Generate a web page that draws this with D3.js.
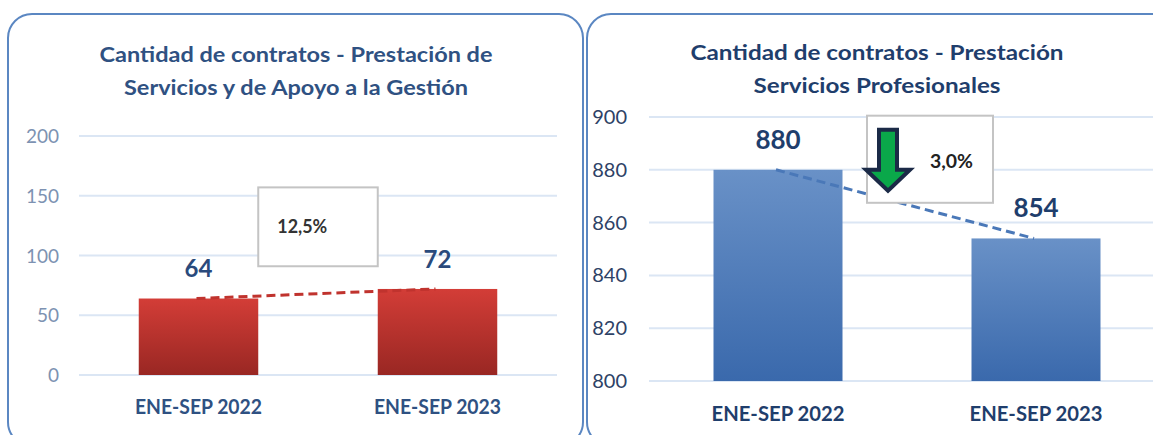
<!DOCTYPE html>
<html>
<head>
<meta charset="utf-8">
<script src="https://cdn.jsdelivr.net/npm/d3@7"></script>
<style>
	body { margin: 0; background: #fff; }
	svg { display: block; font-family: Lato, "Open Sans", sans-serif; }
	.grid line { stroke: #dbe6f4; stroke-width: 2; }
	.panel { fill: none; stroke: #5b87c2; stroke-width: 2; }
	.title { font-weight: bold; text-anchor: middle; }
	.cat { font-weight: bold; text-anchor: middle; }
	.val { font-weight: bold; text-anchor: middle; }
</style>
</head>
<body>
<svg width="1153" height="435"></svg>
<script>
const categories = ["ENE-SEP 2022", "ENE-SEP 2023"]

const apoyoValues = [64, 72]
const apoyoTicks = [0, 50, 100, 150, 200]
const apoyoTitle = ["Cantidad de contratos - Prestación de", "Servicios y de Apoyo a la Gestión"]
const apoyoChange = "12,5%"

const profValues = [880, 854]
const profTicks = [800, 820, 840, 860, 880, 900]
const profTitle = ["Cantidad de contratos - Prestación", "Servicios Profesionales"]
const profChange = "3,0%"

const svg = d3.select("svg")
const defs = svg.append("defs")

function gradient(id, top, bottom) {
	const g = defs.append("linearGradient")
		.attr("id", id)
		.attr("x1", 0).attr("y1", 0)
		.attr("x2", 0).attr("y2", 1)
	g.append("stop").attr("offset", "0%").attr("stop-color", top)
	g.append("stop").attr("offset", "100%").attr("stop-color", bottom)
}
gradient("red", "#d33d37", "#992723")
gradient("blue", "#6991c7", "#3a69ac")

// panel frames
svg.append("rect").attr("class", "panel")
	.attr("x", 8).attr("y", 14).attr("width", 575).attr("height", 432).attr("rx", 24)
svg.append("rect").attr("class", "panel")
	.attr("x", 587).attr("y", 14).attr("width", 590).attr("height", 432).attr("rx", 24)

function drawChart(opt) {
	const g = svg.append("g")

	const x = d3.scaleBand()
		.domain(categories)
		.range(opt.xRange)
		.paddingInner(0.5)
		.paddingOuter(0.25)

	const y = d3.scaleLinear()
		.domain(d3.extent(opt.ticks))
		.range(opt.yRange)

	// title
	g.selectAll(".title")
		.data(opt.title)
		.enter()
		.append("text")
		.attr("class", "title")
		.attr("x", opt.titleX)
		.attr("y", (d, i) => opt.titleY + i * 33)
		.attr("fill", opt.titleColor)
		.style("font-size", opt.titleSize + "px")
		.attr("textLength", (d, i) => opt.titleWidths[i])
		.attr("lengthAdjust", "spacingAndGlyphs")
		.text(d => d)

	// grid + y labels
	const grid = g.append("g").attr("class", "grid")
	grid.selectAll("line")
		.data(opt.ticks)
		.enter()
		.append("line")
		.attr("x1", opt.gridX[0])
		.attr("x2", opt.gridX[1])
		.attr("y1", d => y(d))
		.attr("y2", d => y(d))

	g.selectAll(".tick")
		.data(opt.ticks)
		.enter()
		.append("text")
		.attr("class", "tick")
		.attr("x", opt.tickX)
		.attr("y", d => y(d) + 7)
		.attr("text-anchor", "end")
		.attr("fill", opt.tickColor)
		.style("font-size", opt.tickSize + "px")
		.text(d => d)

	// bars
	g.selectAll(".bar")
		.data(opt.values)
		.enter()
		.append("rect")
		.attr("class", "bar")
		.attr("x", (d, i) => x(categories[i]))
		.attr("width", x.bandwidth())
		.attr("y", d => y(d))
		.attr("height", d => opt.yRange[0] - y(d))
		.attr("fill", "url(#" + opt.grad + ")")

	// trend line
	g.append("line")
		.attr("x1", x(categories[0]) + x.bandwidth() / 2 - 2)
		.attr("x2", x(categories[1]) + x.bandwidth() / 2 - 2)
		.attr("y1", y(opt.values[0]))
		.attr("y2", y(opt.values[1]))
		.attr("stroke", opt.lineColor)
		.attr("stroke-width", 3)
		.attr("stroke-dasharray", "9,5")

	// value labels
	g.selectAll(".val")
		.data(opt.values)
		.enter()
		.append("text")
		.attr("class", "val")
		.attr("x", (d, i) => x(categories[i]) + x.bandwidth() / 2)
		.attr("y", (d, i) => y(d) - opt.valOffset[i])
		.attr("fill", opt.valColor)
		.style("font-size", opt.valSize + "px")
		.text(d => d)

	// category labels
	g.selectAll(".cat")
		.data(categories)
		.enter()
		.append("text")
		.attr("class", "cat")
		.attr("x", d => x(d) + x.bandwidth() / 2)
		.attr("y", opt.catY)
		.attr("fill", opt.titleColor)
		.style("font-size", opt.catSize + "px")
		.attr("textLength", opt.catWidth)
		.attr("lengthAdjust", "spacingAndGlyphs")
		.text(d => d)

	return { g, x, y }
}

// left: apoyo a la gestion
const left = drawChart({
	values: apoyoValues,
	ticks: apoyoTicks,
	title: apoyoTitle,
	titleX: 296, titleY: 62, titleSize: 20, titleWidths: [393, 344],
	titleColor: "#2f5182",
	xRange: [79, 557],
	yRange: [375, 136],
	gridX: [79, 557],
	tickX: 59, tickSize: 19, tickColor: "#7d92b2",
	grad: "red",
	lineColor: "#c0332e",
	valOffset: [22, 21], valSize: 24, valColor: "#2a4a7c",
	catY: 414, catSize: 20, catWidth: 127
})

const lb = left.g.append("g")
	.attr("transform", `translate(${left.x(categories[0]) + left.x.bandwidth()},${left.y(157)})`)
lb.append("rect")
	.attr("width", left.x(categories[1]) - left.x(categories[0]) - left.x.bandwidth())
	.attr("height", left.y(91) - left.y(157))
	.attr("fill", "#fff")
	.attr("stroke", "#c4c4c4")
	.attr("stroke-width", 2)
lb.append("text")
	.attr("x", 19).attr("y", 46)
	.attr("fill", "#333")
	.style("font-size", "18px")
	.style("font-weight", "bold")
	.attr("textLength", 50)
	.attr("lengthAdjust", "spacingAndGlyphs")
	.text(apoyoChange)

// right: servicios profesionales
const right = drawChart({
	values: profValues,
	ticks: profTicks,
	title: profTitle,
	titleX: 877, titleY: 60, titleSize: 21, titleWidths: [373, 247],
	titleColor: "#1f3e6c",
	xRange: [649, 1165],
	yRange: [381, 117],
	gridX: [649, 1153],
	tickX: 627, tickSize: 20, tickColor: "#2e4266",
	grad: "blue",
	lineColor: "#4a78b8",
	valOffset: [21, 21], valSize: 26, valColor: "#1f3e6c",
	catY: 421, catSize: 21, catWidth: 133
})

const rb = right.g.append("g")
	.attr("transform", `translate(867,${right.y(900.5)})`)
rb.append("rect")
	.attr("width", 126)
	.attr("height", right.y(867.5) - right.y(900.5))
	.attr("fill", "#fff")
	.attr("stroke", "#c4c4c4")
	.attr("stroke-width", 2)
// down arrow
rb.append("path")
	.attr("d", "M12,14 L30,14 L30,54 L43,54 L21,75 L-1,54 L12,54 Z")
	.attr("fill", "#0aa84a")
	.attr("stroke", "#1b2a47")
	.attr("stroke-width", 4)
	.attr("stroke-linejoin", "miter")
rb.append("text")
	.attr("x", 63).attr("y", 52)
	.attr("fill", "#222")
	.style("font-size", "18px")
	.style("font-weight", "bold")
	.attr("textLength", 43)
	.attr("lengthAdjust", "spacingAndGlyphs")
	.text(profChange)
</script>
</body>
</html>
